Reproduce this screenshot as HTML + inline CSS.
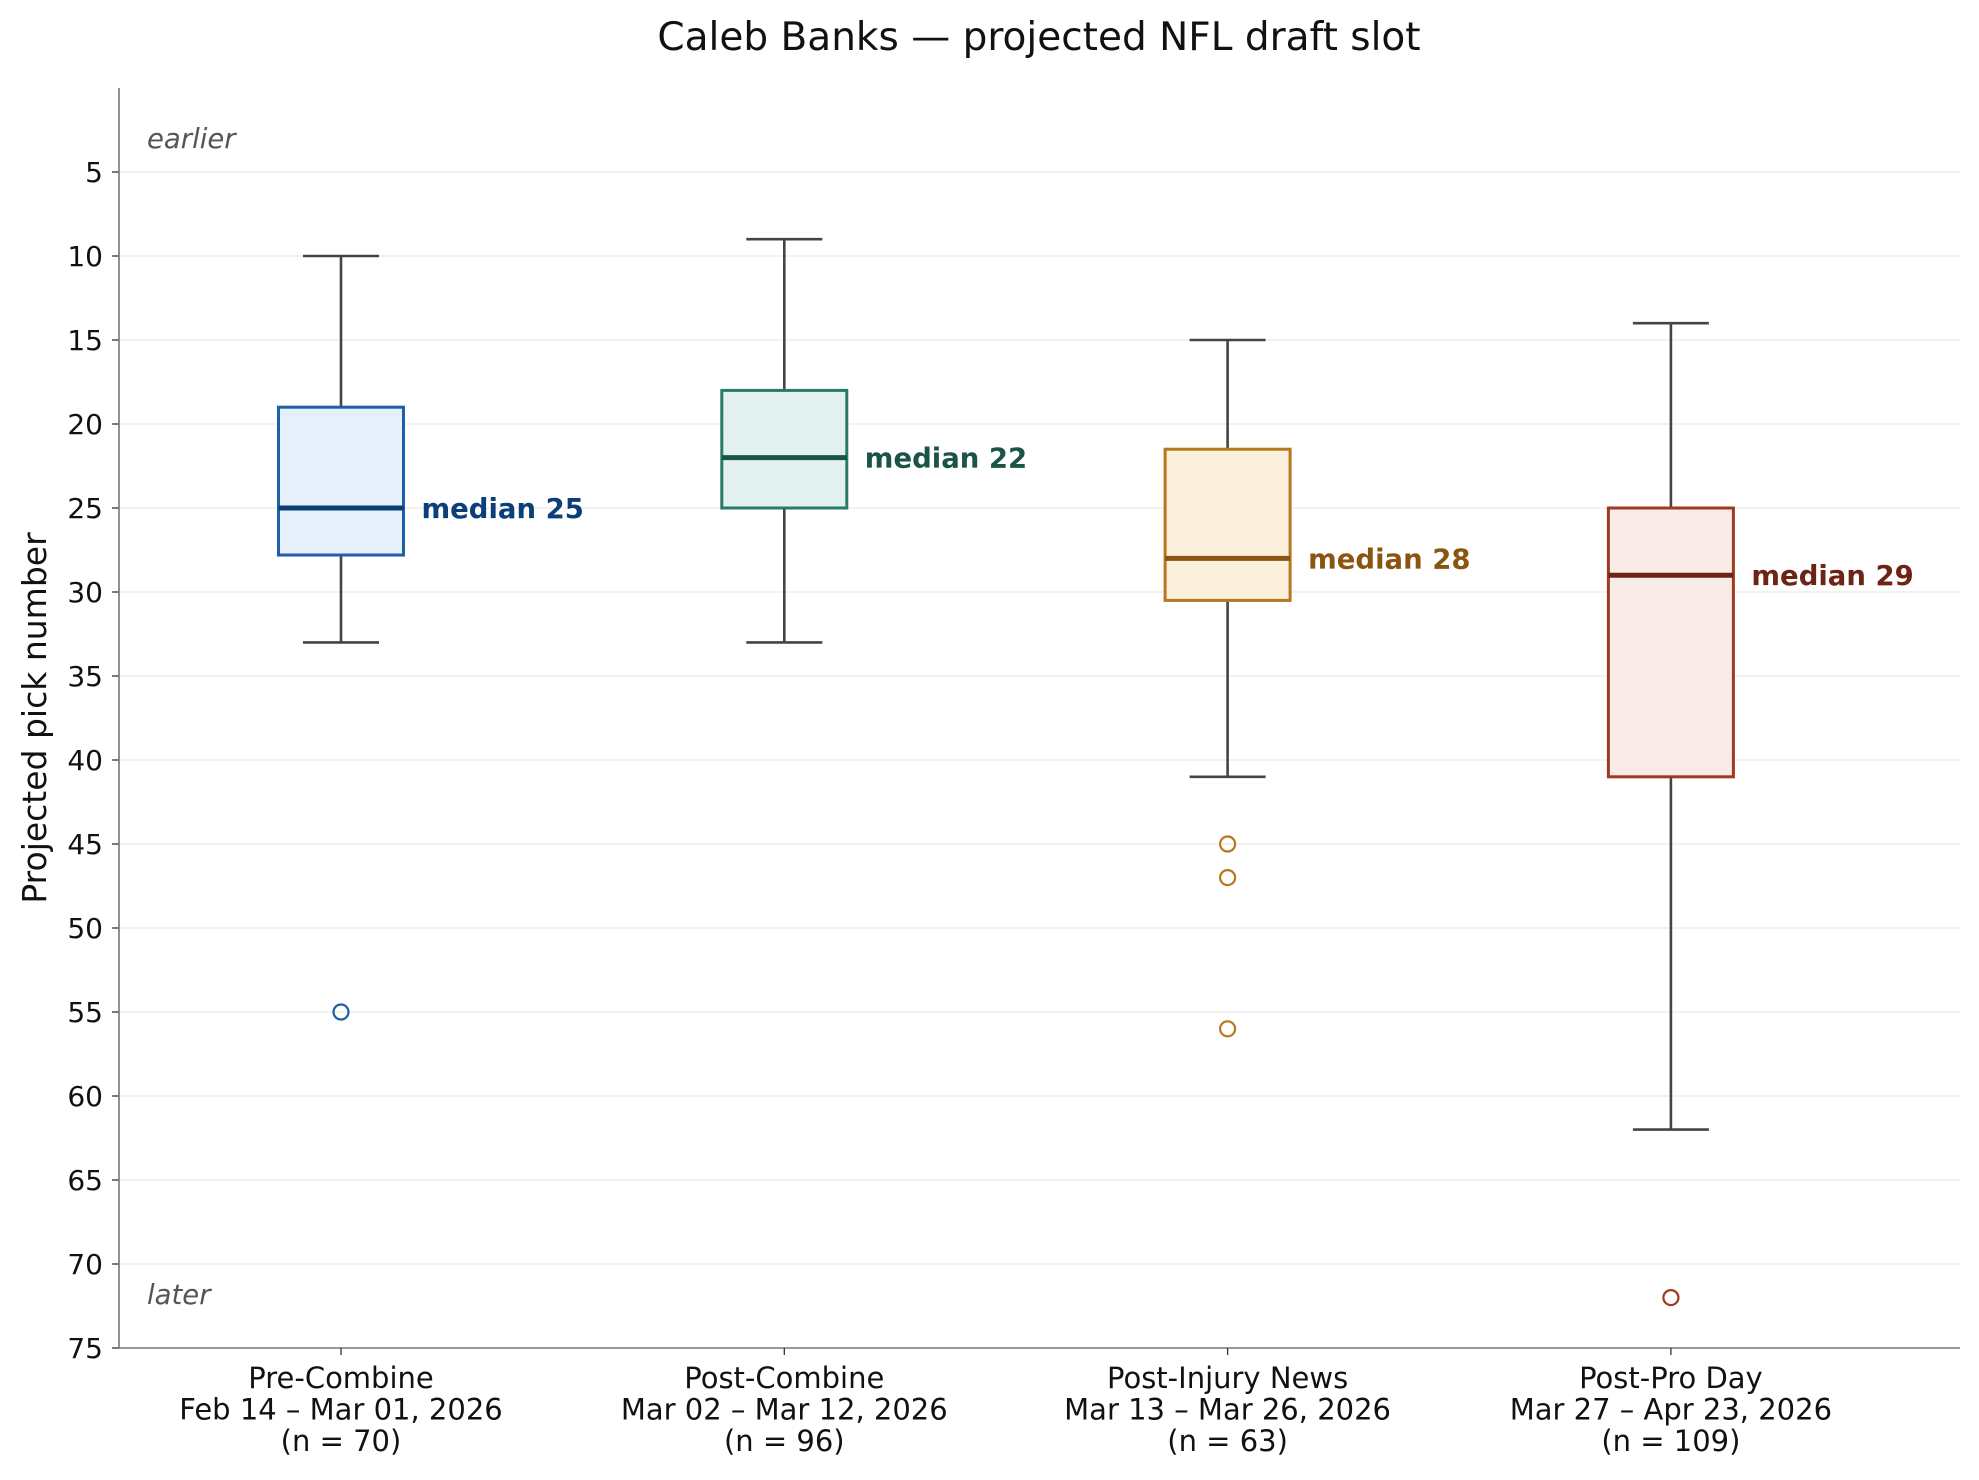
<!DOCTYPE html>
<html><head><meta charset="utf-8"><style>
body{margin:0;background:#fff}
svg{display:block;font-family:"DejaVu Sans","Liberation Sans",sans-serif}
</style></head><body>
<svg id="chart" width="1979" height="1480" viewBox="0 0 1979 1480">
<text x="1039" y="50" text-anchor="middle" font-size="39" fill="#111">Caleb Banks — projected NFL draft slot</text>
<g id="grid"></g>
<g id="yaxis"></g>
<g id="xaxis"></g>
<g id="boxes"></g>
<text x="147" y="148" font-size="27.5" font-style="italic" fill="#555">earlier</text>
<text x="147" y="1304" font-size="27.5" font-style="italic" fill="#555">later</text>
<text transform="translate(46,718) rotate(-90)" text-anchor="middle" font-size="33" fill="#111">Projected pick number</text>
</svg>
<script>
const categories=["Pre-Combine","Post-Combine","Post-Injury News","Post-Pro Day"];
const dateRanges=["Feb 14 – Mar 01, 2026","Mar 02 – Mar 12, 2026","Mar 13 – Mar 26, 2026","Mar 27 – Apr 23, 2026"];
const counts=[70,96,63,109];
const q1=[19,18,21.5,25];
const q3=[27.8,25,30.5,41];
const medians=[25,22,28,29];
const whiskerLow=[10,9,15,14];
const whiskerHigh=[33,33,41,62];
const outliers=[[55],[],[45,47,56],[72]];
const yTicks=[5,10,15,20,25,30,35,40,45,50,55,60,65,70,75];
const edgeColors=["#1f5fa8","#2a7a6a","#b8761f","#a03a1e"];
const fillColors=["#e6f0fb","#e2f1ee","#faf0dc","#f9ebe7"];
const medColors=["#0b3f7a","#1a5446","#8a5510","#6e2414"];

const NS="http://www.w3.org/2000/svg";
const L=119,R=1960,T=88,B=1348;
const yDomain=[0,75];
function y(v){return T+(v-yDomain[0])/(yDomain[1]-yDomain[0])*(B-T);}
function x(i){return 341+i*443.3;}
function mk(tag,attrs,parent){const e=document.createElementNS(NS,tag);for(const k in attrs)e.setAttribute(k,attrs[k]);parent.appendChild(e);return e;}
const grid=document.getElementById('grid'),ya=document.getElementById('yaxis'),xa=document.getElementById('xaxis'),bx=document.getElementById('boxes');
yTicks.forEach(t=>{
  const g=mk('line',{x1:L,x2:R,y1:y(t),y2:y(t),stroke:'#ebebeb','stroke-width':1.3},grid);
  
  
  const tk=mk('line',{x1:L-7,x2:L,y1:y(t),y2:y(t),stroke:'#333','stroke-width':1.3},ya);
  
  
  const tx=mk('text',{x:L-16,y:y(t)+10,'text-anchor':'end','font-size':28,fill:'#111'},ya);
  tx.textContent=t;
  
  
});
const sp=mk('line',{x1:L,x2:L,y1:T,y2:B,stroke:'#777','stroke-width':1.6},ya);


const sp2=mk('line',{x1:L,x2:R,y1:B,y2:B,stroke:'#777','stroke-width':1.6},xa);


const bw=125,cw=76;
categories.forEach((c,i)=>{
  const cx=x(i);
  const tk=mk('line',{x1:cx,x2:cx,y1:B,y2:B+7,stroke:'#333','stroke-width':1.3},xa);
  
  
  [c,dateRanges[i],'(n = '+counts[i]+')'].forEach((s,j)=>{
    const t=mk('text',{x:cx,y:1388+j*31.5,'text-anchor':'middle','font-size':29,fill:'#111'},xa);
    t.textContent=s;
    
    
  });
  const g=mk('g',{},bx);
  
  
  const st={stroke:'#444','stroke-width':2.6};
  const w1=mk('line',Object.assign({x1:cx,x2:cx,y1:y(whiskerLow[i]),y2:y(q1[i])},st),g);
  
  
  const w2=mk('line',Object.assign({x1:cx,x2:cx,y1:y(q3[i]),y2:y(whiskerHigh[i])},st),g);
  
  
  [whiskerLow[i],whiskerHigh[i]].forEach(v=>{
    const cp=mk('line',Object.assign({x1:cx-cw/2,x2:cx+cw/2,y1:y(v),y2:y(v)},st),g);
    
    
  });
  const r=mk('rect',{x:cx-bw/2,y:y(q1[i]),width:bw,height:y(q3[i])-y(q1[i]),fill:fillColors[i],stroke:edgeColors[i],'stroke-width':3},g);
  
  
  const m=mk('line',{x1:cx-bw/2,x2:cx+bw/2,y1:y(medians[i]),y2:y(medians[i]),stroke:medColors[i],'stroke-width':5},g);
  
  
  const ml=mk('text',{x:cx+bw/2+18,y:y(medians[i])+10,'font-size':27.5,'font-weight':'bold',fill:medColors[i]},g);
  ml.textContent='median '+medians[i];
  
  
  outliers[i].forEach(v=>{
    const o=mk('circle',{cx:cx,cy:y(v),r:7.5,fill:'none',stroke:edgeColors[i],'stroke-width':2.2},g);
    
    
  });
});
</script>
</body></html>
